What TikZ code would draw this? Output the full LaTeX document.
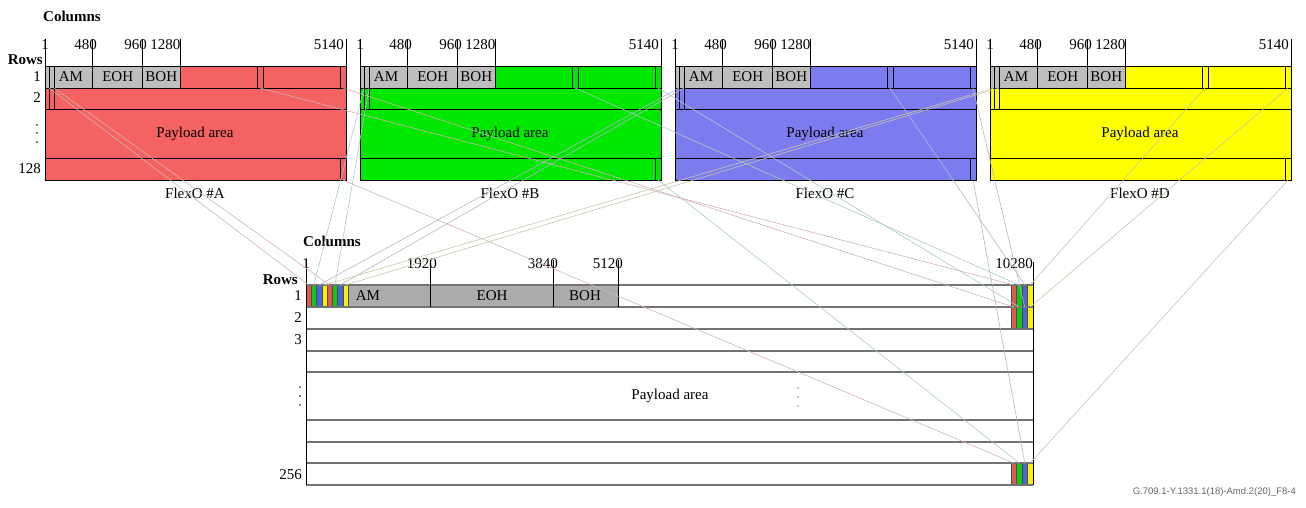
\documentclass[tikz,border=0pt]{standalone}
\usepackage{fontspec}
\setmainfont{Liberation Serif}
\newfontfamily\figsans{Liberation Sans}
\usepackage{tikz}

\definecolor{flexA}{RGB}{244,98,98}
\definecolor{flexB}{RGB}{0,232,0}
\definecolor{flexC}{RGB}{124,124,240}
\definecolor{flexD}{RGB}{255,255,0}
\definecolor{lineA}{RGB}{212,178,178}
\definecolor{lineB}{RGB}{172,202,194}
\definecolor{lineC}{RGB}{180,180,208}
\definecolor{lineD}{RGB}{198,198,170}
\definecolor{ohgray}{RGB}{190,190,190}
\definecolor{bigoh}{RGB}{172,172,172}
\definecolor{stripeA}{RGB}{226,86,86}
\definecolor{stripeB}{RGB}{20,200,20}
\definecolor{stripeC}{RGB}{72,102,220}
\definecolor{stripeD}{RGB}{250,240,0}

\begin{document}
\begin{tikzpicture}[x=1pt,y=-1pt,
  lbl/.style={font=\fontsize{15}{17}\selectfont,inner sep=0pt},
  hdr/.style={font=\fontsize{15}{17}\selectfont\bfseries,inner sep=0pt},
  rowsep/.style={line width=0.6pt},
  bigsep/.style={draw=black!55,line width=1.4pt},
  map/.style={line width=0.6pt}]
 \useasboundingbox (0,0) rectangle (1306,507);
 \node[hdr,anchor=west] (colsA) at (43,16) {Columns};
 \node[hdr,anchor=east] (rowsA) at (43,60) {Rows};
 \node[lbl,anchor=east] (rA1) at (41,77) {1};
 \node[lbl,anchor=east] (rA2) at (41,98) {2};
 \node[lbl,anchor=east] (rA128) at (41,169) {128};
 \foreach \y in {125,133,142} \fill (37,\y) circle (0.9);
 \foreach \n/\c [count=\i from 0] in {A/flexA,B/flexB,C/flexC,D/flexD}{
  \pgfmathsetmacro\xo{45+315*\i}
  \begin{scope}[xshift=\xo pt]
   \fill[\c] (0,66) rectangle (301,180);
   \fill[ohgray] (0,66) rectangle (135,88);
   \draw[rowsep] (0,66) rectangle (301,180) (0,88) -- (301,88)
     (0,109) -- (301,109) (0,158) -- (301,158);
   \draw[rowsep] (4,66) -- (4,109) (9,66) -- (9,109) (212,66) -- (212,88)
     (218,66) -- (218,88) (295,66) -- (295,88) (295,158) -- (295,180);
   \foreach \t in {0,47.7,97.7,135,301} \draw[rowsep] (\t,39) -- (\t,88);
   \node[lbl,anchor=base] (\n-c1) at (0,49) {1};
   \foreach \t/\v in {52/480,102/960,135.5/1280,299/5140}
     \node[lbl,anchor=base east] (\n-c\v) at (\t,49) {\v};
   \node[lbl] (\n-am) at (26,77) {AM};
   \node[lbl] (\n-eoh) at (72.7,77) {EOH};
   \node[lbl] (\n-boh) at (116.3,77) {BOH};
   \node[lbl] (\n-pl) at (150,133.5) {Payload area};
   \node[lbl] (\n-name) at (150,193) {FlexO \#\n};
   \coordinate (\n-b1) at (4,88);
   \coordinate (\n-b2) at (9,88);
   \coordinate (\n-mid) at (215,88);
   \coordinate (\n-e1) at (298,88);
   \coordinate (\n-e128) at (298,180);
  \end{scope}
 }
 \fill[bigoh] (306,285) rectangle (618,307);
 \foreach \c [count=\j from 0] in {stripeA,stripeB,stripeC,stripeD,stripeA,stripeB,stripeC,stripeD}{
  \fill[\c] (306+5.25*\j,285) rectangle +(5.25,22);
  \coordinate (s\j) at (308.6+5.25*\j,285);
 }
 \foreach \c [count=\j from 0] in {stripeA,stripeB,stripeC,stripeD}{
  \fill[\c] (1011+5.5*\j,285) rectangle +(5.5,44);
  \fill[\c] (1011+5.5*\j,463) rectangle +(5.5,22);
  \coordinate (r\j) at (1013.75+5.5*\j,285);
  \coordinate (p\j) at (1013.75+5.5*\j,307);
  \coordinate (q\j) at (1013.75+5.5*\j,463);
 }
 \foreach \k in {0,...,8} \draw[black!70,line width=0.4pt] (306+5.25*\k,285) -- +(0,22);
 \foreach \k in {0,...,4} \draw[black!70,line width=0.4pt] (1011+5.5*\k,285) -- +(0,44)
   (1011+5.5*\k,463) -- +(0,22);
 \foreach \y in {285,307,329,351,372,420,442,463,485} \draw[bigsep] (306,\y) -- (1033,\y);
 \draw[line width=1pt] (306,260) -- (306,485) (1033,262) -- (1033,485);
 \foreach \t in {430,553,618} \draw[line width=0.8pt] (\t,260) -- (\t,307);
 \node[hdr] (colsB) at (332,241) {Columns};
 \node[hdr,anchor=east] (rowsB) at (298,280) {Rows};
 \node[lbl,anchor=base] (cB1) at (306,268) {1};
 \node[lbl,anchor=base east] (cB1920) at (437,268) {1920};
 \node[lbl,anchor=base east] (cB3840) at (558,268) {3840};
 \node[lbl,anchor=base east] (cB5120) at (623,268) {5120};
 \node[lbl,anchor=base east] (cB10280) at (1033,268) {10280};
 \node[lbl,anchor=east] (rB1) at (302,296) {1};
 \node[lbl,anchor=east] (rB2) at (302,318) {2};
 \node[lbl,anchor=east] (rB3) at (302,340) {3};
 \node[lbl,anchor=east] (rB256) at (302,475) {256};
 \foreach \y in {387,396,405} \fill (300,\y) circle (0.9);
 \foreach \y in {388,397,406} \fill[black!45] (798,\y) circle (0.9);
 \node[lbl] (amB) at (368,296) {AM};
 \node[lbl] (eohB) at (492,296) {EOH};
 \node[lbl] (bohB) at (585,296) {BOH};
 \node[lbl] (plB) at (670,396) {Payload area};
 \foreach \n/\m [count=\i from 0] in {A/lineA,B/lineB,C/lineC,D/lineD}{
  \pgfmathtruncatemacro\k{\i+4}
  \draw[map,\m] (\n-b1) -- (s\i);
  \draw[map,\m] (\n-b2) -- (s\k);
  \draw[map,\m] (\n-mid) -- (r\i);
  \draw[map,\m] (\n-e1) -- (p\i);
  \draw[map,\m] (\n-e128) -- (q\i);
 }
 \node[font=\figsans\fontsize{9.5}{11}\selectfont,text=black!60,anchor=east,inner sep=0pt]
   (figref) at (1296,492) {G.709.1-Y.1331.1(18)-Amd.2(20)\_F8-4};
\end{tikzpicture}
\end{document}
